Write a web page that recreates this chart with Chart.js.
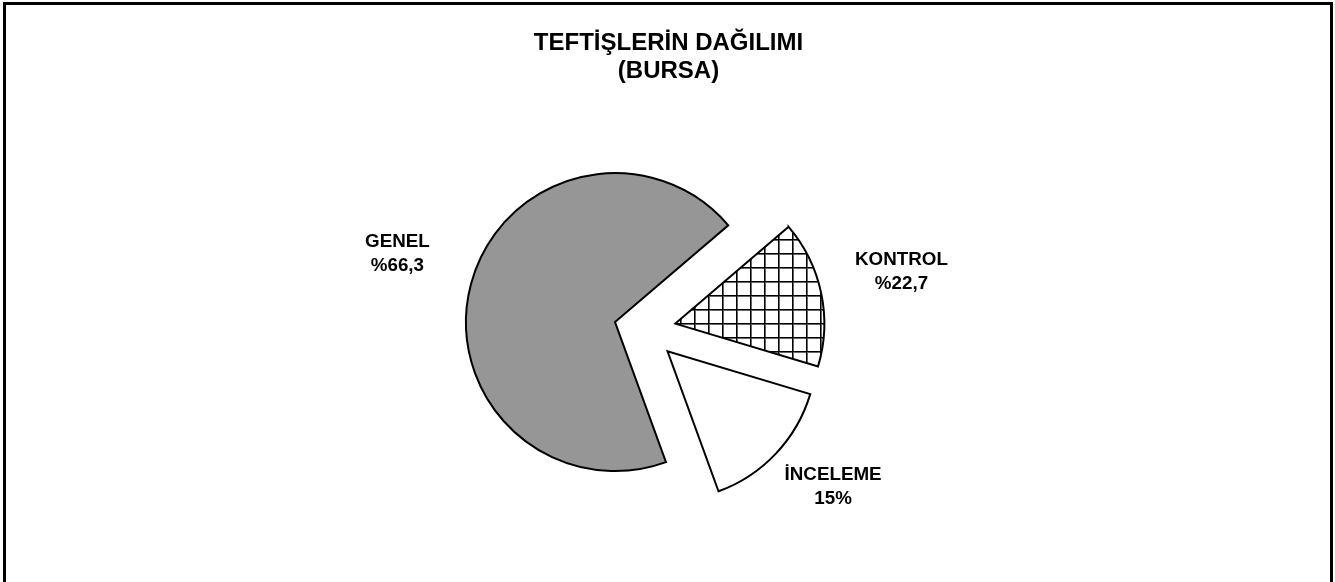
<!doctype html>
<html lang="tr">
  <head>
    <meta charset="utf-8">
    <title>Teftişlerin Dağılımı</title>
    <script src="https://cdn.jsdelivr.net/npm/chart.js@4.4.0/dist/chart.umd.min.js"></script>
    <style>
      html, body { margin: 0; padding: 0; background: #fff; overflow: hidden; }
      .frame {
        position: absolute; left: 3px; top: 2px;
        width: 1330px; height: 640px;
        box-sizing: border-box; border: 3px solid #000;
      }
      #pie { position: absolute; left: 0; top: 0; }
    </style>
  </head>
  <body>
    <div class="frame"></div>
    <canvas id="pie" width="1335" height="582"></canvas>

    <script>
      // Data
      const titleLines = ['TEFTİŞLERİN DAĞILIMI', '(BURSA)'];
      const categories = ['GENEL', 'KONTROL', 'İNCELEME'];
      // slice sizes as drawn (measured from the slice angles)
      const sliceShares = [69.3, 15.9, 14.8];
      // the percentages as printed on the chart
      const shareTexts = ['%66,3', '%22,7', '15%'];

      // label placement: distance from pie centre and small angle nudge (deg)
      const labelDist = [259, 263, 245];
      const labelTurn = [2.3, -0.9, -3.5];
      const explode = 31;

      // cross hatch for KONTROL
      function hatch() {
        const c = document.createElement('canvas');
        c.width = 14; c.height = 14;
        const g = c.getContext('2d');
        g.fillStyle = '#fff';
        g.fillRect(0, 0, 14, 14);
        g.fillStyle = '#666';
        g.fillRect(9, 0, 1, 14);
        g.fillRect(0, 2, 14, 1);
        g.fillStyle = '#000';
        g.fillRect(8, 0, 1, 14);
        g.fillRect(0, 1, 14, 1);
        return g.createPattern(c, 'repeat');
      }

      const ctx = document.getElementById('pie');

      // pull every slice out from the centre along its middle angle
      const explodePlugin = {
        id: 'explode',
        afterDatasetsUpdate(chart) {
          chart.getDatasetMeta(0).data.forEach(arc => {
            const mid = (arc.startAngle + arc.endAngle) / 2;
            arc.x += Math.cos(mid) * explode;
            arc.y += Math.sin(mid) * explode;
          });
        }
      };

      const textPlugin = {
        id: 'texts',
        afterDraw(chart) {
          const c = chart.ctx;
          const area = chart.chartArea;
          const cx = (area.left + area.right) / 2;
          const cy = (area.top + area.bottom) / 2;
          c.save();
          c.fillStyle = '#000';
          c.textAlign = 'center';
          c.textBaseline = 'middle';

          c.font = 'bold 24px "Liberation Sans", Arial, sans-serif';
          c.fillText(titleLines[0], chart.width / 2 + 1, 43);
          c.fillText(titleLines[1], chart.width / 2 + 1, 71);

          c.font = 'bold 18.8px "Liberation Sans", Arial, sans-serif';
          chart.getDatasetMeta(0).data.forEach((arc, i) => {
            const a = (arc.startAngle + arc.endAngle) / 2 + labelTurn[i] * Math.PI / 180;
            const x = cx + Math.cos(a) * labelDist[i];
            const y = cy + Math.sin(a) * labelDist[i];
            c.fillText(categories[i], x, y - 12);
            c.fillText(shareTexts[i], x, y + 12);
          });
          c.restore();
        }
      };

      new Chart(ctx, {
        type: 'pie',
        data: {
          labels: categories,
          datasets: [{
            data: sliceShares,
            backgroundColor: ['#969696', hatch(), '#ffffff'],
            borderColor: '#000',
            borderWidth: 2,
            borderJoinStyle: 'miter',
            radius: 149
          }]
        },
        options: {
          responsive: false,
          animation: false,
          rotation: 160,
          layout: { padding: { left: 0, right: 45, top: 78, bottom: 0 } },
          plugins: {
            legend: { display: false },
            tooltip: { enabled: false },
            title: { display: false }
          }
        },
        plugins: [explodePlugin, textPlugin]
      });
    </script>
  </body>
</html>
